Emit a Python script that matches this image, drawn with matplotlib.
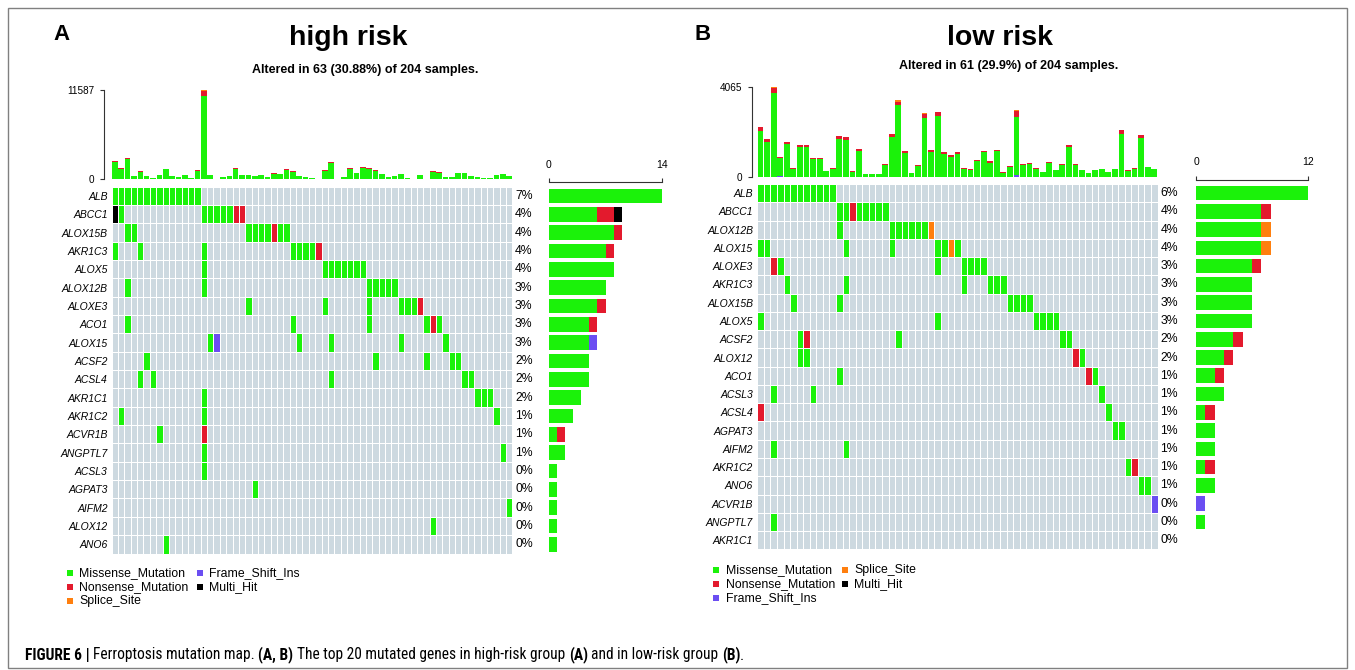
import numpy as np
import matplotlib.pyplot as plt
from matplotlib.colors import ListedColormap
from matplotlib.patches import Rectangle
from matplotlib import font_manager

plt.rcParams['font.family'] = ['Liberation Sans', 'DejaVu Sans']

N_SAMPLES = 204

# variant classes in stacking order
classes = ['Missense_Mutation', 'Nonsense_Mutation', 'Splice_Site', 'Frame_Shift_Ins', 'Multi_Hit']
class_colors = ['#1BF20A', '#E31A2D', '#FF7F0E', '#6B4EF2', '#000000']
cell_bg = '#CDD9E0'

# ---------------- A: high risk (63 altered samples) ----------------
hi_n = 63
hi_genes = ['ALB', 'ABCC1', 'ALOX15B', 'AKR1C3', 'ALOX5', 'ALOX12B', 'ALOXE3', 'ACO1',
            'ALOX15', 'ACSF2', 'ACSL4', 'AKR1C1', 'AKR1C2', 'ACVR1B', 'ANGPTL7', 'ACSL3',
            'AGPAT3', 'AIFM2', 'ALOX12', 'ANO6']
# sample columns carrying each variant class
hi_missense = {
    'ALB': [0, 1, 2, 3, 4, 5, 6, 7, 8, 9, 10, 11, 12, 13],
    'ABCC1': [1, 14, 15, 16, 17, 18],
    'ALOX15B': [2, 3, 21, 22, 23, 24, 26, 27],
    'AKR1C3': [0, 4, 14, 28, 29, 30, 31],
    'ALOX5': [14, 33, 34, 35, 36, 37, 38, 39],
    'ALOX12B': [2, 14, 40, 41, 42, 43, 44],
    'ALOXE3': [21, 33, 40, 45, 46, 47],
    'ACO1': [2, 28, 40, 49, 51],
    'ALOX15': [15, 29, 34, 45, 52],
    'ACSF2': [5, 41, 49, 53, 54],
    'ACSL4': [4, 6, 34, 55, 56],
    'AKR1C1': [14, 57, 58, 59],
    'AKR1C2': [1, 14, 60],
    'ACVR1B': [7],
    'ANGPTL7': [14, 61],
    'ACSL3': [14],
    'AGPAT3': [22],
    'AIFM2': [62],
    'ALOX12': [50],
    'ANO6': [8],
}
hi_nonsense = {'ABCC1': [19, 20], 'ALOX15B': [25], 'AKR1C3': [32], 'ALOXE3': [48],
               'ACO1': [50], 'ACVR1B': [14]}
hi_splice = {}
hi_frameshift = {'ALOX15': [16]}
hi_multi = {'ABCC1': [0]}

# mutation burden per sample (top bars)
hi_tmb_total = [2420, 1510, 2770, 390, 1120, 430, 170, 560, 1380, 430,
                260, 600, 170, 1210, 11587, 600, 40, 260, 390, 1430,
                600, 600, 430, 600, 300, 780, 690, 1300, 1040, 390,
                260, 220, 40, 1170, 2250, 40, 350, 1430, 780, 1560,
                1470, 1210, 690, 300, 430, 650, 130, 90, 520, 90,
                1080, 910, 260, 260, 860, 860, 480, 350, 130, 130,
                560, 730, 390]
hi_tmb_nonsense = [210, 110, 150, 0, 110, 0, 0, 0, 80, 0,
                   0, 40, 0, 80, 560, 0, 0, 0, 0, 80,
                   0, 0, 0, 0, 0, 60, 0, 90, 80, 0,
                   0, 0, 0, 70, 120, 0, 0, 70, 0, 70,
                   110, 70, 0, 0, 0, 0, 0, 0, 0, 0,
                   70, 60, 0, 0, 0, 0, 0, 0, 0, 0,
                   0, 50, 0]
hi_tmb_splice = {14: 180}
hi_tmb_frameshift = {}
hi_tmb_max = 11587

# ---------------- B: low risk (61 altered samples) ----------------
lo_n = 61
lo_genes = ['ALB', 'ABCC1', 'ALOX12B', 'ALOX15', 'ALOXE3', 'AKR1C3', 'ALOX15B', 'ALOX5',
            'ACSF2', 'ALOX12', 'ACO1', 'ACSL3', 'ACSL4', 'AGPAT3', 'AIFM2', 'AKR1C2',
            'ANO6', 'ACVR1B', 'ANGPTL7', 'AKR1C1']
lo_missense = {
    'ALB': [0, 1, 2, 3, 4, 5, 6, 7, 8, 9, 10, 11],
    'ABCC1': [12, 13, 15, 16, 17, 18, 19],
    'ALOX12B': [12, 20, 21, 22, 23, 24, 25],
    'ALOX15': [0, 1, 13, 20, 27, 28, 30],
    'ALOXE3': [3, 27, 31, 32, 33, 34],
    'AKR1C3': [4, 13, 31, 35, 36, 37],
    'ALOX15B': [5, 12, 38, 39, 40, 41],
    'ALOX5': [0, 27, 42, 43, 44, 45],
    'ACSF2': [6, 21, 46, 47],
    'ALOX12': [6, 7, 49],
    'ACO1': [12, 51],
    'ACSL3': [2, 8, 52],
    'ACSL4': [53],
    'AGPAT3': [54, 55],
    'AIFM2': [2, 13],
    'AKR1C2': [56],
    'ANO6': [58, 59],
    'ANGPTL7': [2],
}
lo_nonsense = {'ABCC1': [14], 'ALOXE3': [2], 'ACSF2': [7], 'ALOX12': [48],
               'ACO1': [50], 'ACSL4': [0], 'AKR1C2': [57]}
lo_splice = {'ALOX12B': [26], 'ALOX15': [29]}
lo_frameshift = {'ACVR1B': [60]}
lo_multi = {}

lo_tmb_total = [2270, 1690, 4065, 910, 1570, 390, 1450, 1450, 850, 850,
                260, 390, 1830, 1780, 240, 1240, 120, 120, 120, 570,
                1930, 3460, 1150, 150, 510, 2900, 1210, 2930, 1120, 970,
                1120, 390, 360, 760, 1180, 700, 1220, 200, 480, 3020,
                570, 640, 390, 210, 670, 290, 560, 1420, 570, 320,
                150, 290, 360, 200, 330, 2120, 300, 390, 1870, 450,
                360]
lo_tmb_nonsense = [180, 120, 230, 75, 105, 45, 120, 120, 60, 60,
                   0, 45, 120, 120, 45, 75, 0, 0, 0, 45,
                   135, 150, 90, 0, 45, 210, 90, 180, 75, 60,
                   75, 45, 45, 60, 75, 60, 75, 30, 60, 240,
                   60, 45, 45, 0, 60, 0, 45, 90, 60, 0,
                   0, 0, 30, 0, 0, 165, 30, 45, 105, 30,
                   0]
lo_tmb_splice = {2: 60, 21: 60, 25: 45, 39: 60}
lo_tmb_frameshift = {3: 30, 39: 90}
lo_tmb_max = 4065

# ---------------- layout helpers (pixel boxes) ----------------
W, H = 1355, 670
fig = plt.figure(figsize=(W / 100, H / 100), dpi=100)


def add_ax(x0, y0, x1, y1):
    return fig.add_axes([x0 / W, 1 - y1 / H, (x1 - x0) / W, (y1 - y0) / H])


def fx(x):
    return x / W


def fy(y):
    return 1 - y / H


def sparse(d, n):
    out = np.zeros(n)
    for k, v in d.items():
        out[k] = v
    return out


def draw_panel(genes, n_cols, layers, tmb_total, tmb_nons, tmb_spl, tmb_fs, tmb_max,
               top_box, grid_box, side_x, side_max, spine_out):
    mat = np.zeros((len(genes), n_cols), dtype=int)
    for k, layer in enumerate(layers, start=1):
        for g, cols in layer.items():
            mat[genes.index(g), cols] = k
    n_g = len(genes)

    # oncoplot grid
    ax = add_ax(grid_box[0], grid_box[1], grid_box[2], grid_box[3])
    cmap = ListedColormap([cell_bg] + class_colors)
    ax.pcolormesh(np.arange(n_cols + 1), np.arange(n_g + 1), mat, cmap=cmap,
                  vmin=-0.5, vmax=len(class_colors) + 0.5,
                  edgecolors='white', linewidth=0.6)
    ax.set_xlim(0, n_cols)
    ax.set_ylim(n_g, 0)
    for s in ax.spines.values():
        s.set_visible(False)
    ax.set_xticks([])
    ax.set_yticks(np.arange(n_g) + 0.5)
    ax.set_yticklabels(genes, fontstyle='italic', fontsize=7.5)
    ax.tick_params(axis='y', length=0, pad=3)
    altered = (mat > 0).sum(axis=1)
    for i, a in enumerate(altered):
        ax.annotate(f"{round(100 * a / N_SAMPLES)}%", xy=(1, i + 0.5),
                    xycoords=('axes fraction', 'data'), xytext=(2, 0),
                    textcoords='offset points', va='center', ha='left', fontsize=8.8)

    # top bars: mutation burden
    axt = add_ax(top_box[0], top_box[1], top_box[2], top_box[3])
    x = np.arange(n_cols) + 0.5
    total = np.array(tmb_total, dtype=float)
    nons = np.array(tmb_nons, dtype=float)
    spl = sparse(tmb_spl, n_cols)
    fs = sparse(tmb_fs, n_cols)
    mis = total - nons - spl - fs
    bottom = np.zeros(n_cols)
    for vals, col in [(fs, class_colors[3]), (mis, class_colors[0]),
                      (nons, class_colors[1]), (spl, class_colors[2])]:
        axt.bar(x, vals, bottom=bottom, width=0.88, color=col, linewidth=0)
        bottom += vals
    axt.set_xlim(0, n_cols)
    axt.set_ylim(0, tmb_max)
    for s in ['top', 'right', 'bottom']:
        axt.spines[s].set_visible(False)
    axt.spines['left'].set_position(('outward', spine_out))
    axt.spines['left'].set_color('#333333')
    axt.set_xticks([])
    axt.set_yticks([0, tmb_max])
    axt.set_yticklabels(['0', str(tmb_max)], fontsize=7.2)
    axt.tick_params(axis='y', length=3, pad=4, color='#333333')

    # side bars: counts per class
    axs = add_ax(side_x[0], grid_box[1], side_x[1], grid_box[3])
    y = np.arange(n_g) + 0.5
    left = np.zeros(n_g)
    for k, col in enumerate(class_colors, start=1):
        cnt = (mat == k).sum(axis=1)
        axs.barh(y, cnt, left=left, height=0.8, color=col, linewidth=0)
        left += cnt
    axs.set_xlim(0, side_max)
    axs.set_ylim(n_g, 0)
    for s in ['bottom', 'right', 'left']:
        axs.spines[s].set_visible(False)
    axs.spines['top'].set_position(('outward', 3.2))
    axs.spines['top'].set_color('#333333')
    axs.set_yticks([])
    axs.xaxis.tick_top()
    axs.set_xticks([0, side_max])
    axs.set_xticklabels(['0', str(side_max)], fontsize=7.5)
    axs.tick_params(axis='x', length=3, pad=6, color='#333333')


draw_panel(hi_genes, hi_n, [hi_missense, hi_nonsense, hi_splice, hi_frameshift, hi_multi],
           hi_tmb_total, hi_tmb_nonsense, hi_tmb_splice, hi_tmb_frameshift, hi_tmb_max,
           (111.7, 90, 512.3, 179.3), (111.7, 186.7, 512.3, 553.5), (549, 662), 14, 5.3)
draw_panel(lo_genes, lo_n, [lo_missense, lo_nonsense, lo_splice, lo_frameshift, lo_multi],
           lo_tmb_total, lo_tmb_nonsense, lo_tmb_splice, lo_tmb_frameshift, lo_tmb_max,
           (757.3, 87, 1157.5, 176.7), (757.3, 184, 1157.5, 549.3), (1196, 1308), 12, 3.6)

# titles
fig.text(fx(62), fy(35), 'A', fontsize=16, fontweight='bold', ha='center', va='center')
fig.text(fx(348), fy(38), 'high risk', fontsize=20.5, fontweight='bold', ha='center', va='center')
fig.text(fx(365), fy(70), 'Altered in 63 (30.88%) of 204 samples.', fontsize=9,
         fontweight='bold', ha='center', va='center')
fig.text(fx(703), fy(35), 'B', fontsize=16, fontweight='bold', ha='center', va='center')
fig.text(fx(1000), fy(38), 'low risk', fontsize=20.5, fontweight='bold', ha='center', va='center')
fig.text(fx(1009), fy(66), 'Altered in 61 (29.9%) of 204 samples.', fontsize=9,
         fontweight='bold', ha='center', va='center')

# legends
col_of = dict(zip(classes, class_colors))


def legend(items, x_mark, x_text, y_rows):
    for (name, cx, ry) in items:
        xm = x_mark[cx]
        ym = y_rows[ry]
        fig.add_artist(Rectangle((fx(xm - 3), fy(ym + 3)), 6 / W, 6 / H,
                                 transform=fig.transFigure, color=col_of[name], lw=0))
        fig.text(fx(x_text[cx]), fy(ym), name, fontsize=8.8, ha='left', va='center')


legend([('Missense_Mutation', 0, 0), ('Nonsense_Mutation', 0, 1), ('Splice_Site', 0, 2),
        ('Frame_Shift_Ins', 1, 0), ('Multi_Hit', 1, 1)],
       [69.5, 199.5], [79, 209], [573.3, 587.3, 601.3])
legend([('Missense_Mutation', 0, 0), ('Nonsense_Mutation', 0, 1), ('Frame_Shift_Ins', 0, 2),
        ('Splice_Site', 1, 0), ('Multi_Hit', 1, 1)],
       [716, 845], [726, 854], [570, 584, 598])

# caption with mixed weights, in a narrow face when one is installed
_fonts = font_manager.fontManager.ttflist
_names = {f.name for f in _fonts}
cap_kw = {'family': 'Liberation Sans'}
for cand in ['Liberation Sans Narrow', 'Arial Narrow', 'Roboto Condensed']:
    if cand in _names:
        cap_kw = {'family': cand}
        break
else:
    if any(f.name == 'DejaVu Sans' and f.stretch == 'condensed' for f in _fonts):
        cap_kw = {'family': 'DejaVu Sans', 'fontstretch': 'condensed'}

segments = [('FIGURE 6 |', True), ('Ferroptosis mutation map.', False), ('(A, B)', True),
            ('The top 20 mutated genes in high-risk group', False), ('(A)', True),
            ('and in low-risk group', False), ('(B)', True)]
renderer = fig.canvas.get_renderer()


def place_caption(size, x0, y0, draw=True):
    x = x0
    made = []
    sp = fig.text(0, 0, 'x x', fontsize=size, **cap_kw)
    nsp = fig.text(0, 0, 'xx', fontsize=size, **cap_kw)
    space = sp.get_window_extent(renderer).width - nsp.get_window_extent(renderer).width
    sp.remove()
    nsp.remove()
    for i, (txt, bold) in enumerate(segments):
        t = fig.text(fx(x), fy(y0), txt, fontsize=size,
                     fontweight='bold' if bold else 'normal', ha='left', va='center', **cap_kw)
        x += t.get_window_extent(renderer).width
        if i < len(segments) - 1:
            x += space
        made.append(t)
    t = fig.text(fx(x), fy(y0), '.', fontsize=size, ha='left', va='center', **cap_kw)
    x += t.get_window_extent(renderer).width
    made.append(t)
    if not draw:
        for t in made:
            t.remove()
    return x - x0


w12 = place_caption(12, 25, 655, draw=False)
place_caption(12 * 723 / w12, 25, 655)

# outer frame
fig.add_artist(Rectangle((fx(8), fy(668)), (1347 - 8) / W, (668 - 8) / H,
                         transform=fig.transFigure, fill=False, edgecolor='#808080', lw=1))

fig.savefig('out.png', dpi=100)
